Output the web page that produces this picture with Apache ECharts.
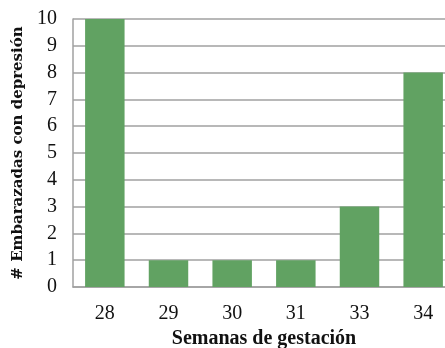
<!DOCTYPE html>
<html>
<head>
<meta charset="utf-8">
<script src="https://cdn.jsdelivr.net/npm/echarts@6/dist/echarts.min.js"></script>
<style>
  html, body { margin: 0; padding: 0; background: #fff; }
  #chart { width: 445px; height: 348px; }
</style>
</head>
<body>
<div id="chart"></div>
<script>
// datos
const semanas = ['28', '29', '30', '31', '33', '34'];
const embarazadas = [10, 1, 1, 1, 3, 8];

let chart = echarts.init(document.getElementById('chart'));

const serif = '"Liberation Serif", "DejaVu Serif", serif';

let option = {
    animation: false,
    grid: {
        left: 73,
        top: 19,
        width: 382,
        height: 268,
        outerBoundsMode: 'none',
        containLabel: false
    },
    xAxis: {
        type: 'category',
        data: semanas,
        name: 'Semanas de gestación',
        nameLocation: 'middle',
        nameGap: 40,
        nameTextStyle: {fontFamily: serif, fontSize: 20, fontWeight: 'bold', color: '#111'},
        axisLine: {lineStyle: {color: '#a0a0a0', width: 1.5}},
        axisTick: {show: false},
        axisLabel: {fontFamily: serif, fontSize: 20, color: '#111', margin: 17}
    },
    yAxis: {
        type: 'value',
        min: 0,
        max: 10,
        interval: 1,
        name: '# Embarazadas con depresión',
        nameLocation: 'middle',
        nameGap: 45,
        nameTextStyle: {fontFamily: '"DejaVu Serif", serif', fontSize: 15, fontWeight: 'bold', color: '#111'},
        axisLine: {show: true, lineStyle: {color: '#a0a0a0', width: 1.5}},
        axisTick: {show: false},
        axisLabel: {fontFamily: serif, fontSize: 20, color: '#111', margin: 16},
        splitLine: {lineStyle: {color: '#a0a0a0', width: 1.5}}
    },
    series: [
        {
            type: 'bar',
            data: embarazadas,
            barCategoryGap: '38%',
            itemStyle: {color: '#61a262'}
        }
    ]
};

chart.setOption(option);
</script>
</body>
</html>
